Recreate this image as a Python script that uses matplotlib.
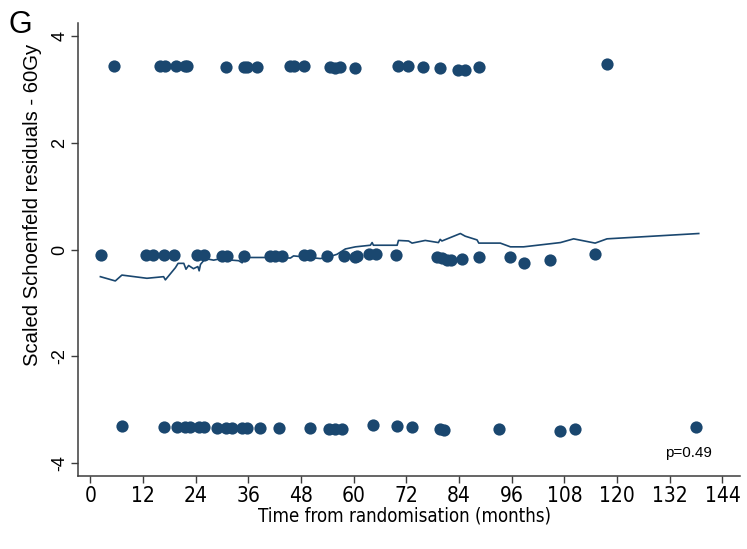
import matplotlib
matplotlib.use("Agg")
import matplotlib.pyplot as plt
from matplotlib import font_manager

# ---- data (months, scaled Schoenfeld residual) ----
top_t = [5.5, 15.9, 17.1, 19.6, 21.6, 22.0, 30.9, 35.1, 35.7, 38.0, 45.6, 46.3, 48.6,
         54.7, 55.8, 56.9, 60.4, 70.0, 72.4, 75.9, 79.7, 83.7, 85.4, 88.5, 117.7]
top_r = [3.45, 3.45, 3.45, 3.45, 3.44, 3.44, 3.43, 3.43, 3.43, 3.43, 3.45, 3.45, 3.45,
         3.43, 3.41, 3.42, 3.41, 3.45, 3.45, 3.42, 3.41, 3.36, 3.36, 3.42, 3.48]

mid_t = [2.4, 12.7, 14.3, 16.7, 19.0, 24.3, 25.8, 30.0, 31.1, 34.9, 41.0, 42.1, 43.7,
         48.6, 50.1, 53.9, 57.7, 60.4, 60.8, 63.6, 65.1, 69.7, 79.0, 80.1, 81.3, 82.2,
         84.7, 88.5, 95.7, 98.7, 104.8, 115.0]
mid_r = [-0.10, -0.11, -0.11, -0.10, -0.10, -0.11, -0.11, -0.12, -0.12, -0.12, -0.12, -0.12, -0.12,
         -0.11, -0.11, -0.13, -0.13, -0.14, -0.12, -0.09, -0.09, -0.10, -0.15, -0.16, -0.20, -0.20,
         -0.17, -0.14, -0.15, -0.25, -0.20, -0.08]

bot_t = [7.2, 16.7, 19.7, 21.6, 22.8, 24.7, 25.8, 28.9, 30.8, 32.3, 34.6, 35.7, 38.7,
         42.9, 50.1, 54.3, 55.8, 57.3, 64.4, 69.9, 73.3, 79.7, 80.5, 93.2, 107.1, 110.3, 138.0]
bot_r = [-3.32, -3.33, -3.33, -3.33, -3.33, -3.33, -3.33, -3.34, -3.34, -3.34, -3.34, -3.34, -3.34,
         -3.34, -3.34, -3.36, -3.36, -3.36, -3.30, -3.32, -3.33, -3.36, -3.39, -3.37, -3.41, -3.36, -3.33]

smooth_t = [2.3, 5.7, 7.2, 12.9, 16.7, 17.1, 18.0, 19.4, 20.0, 21.3, 21.8, 22.4, 23.5, 24.5,
            24.8, 25.1, 26.2, 28.1, 29.2, 33.8, 34.6, 34.9, 39.5, 45.6, 46.3, 52.4, 53.9,
            56.2, 58.1, 60.4, 63.8, 64.2, 64.5, 69.9, 70.2, 72.5, 73.3, 76.3, 79.3, 79.7,
            80.1, 84.3, 85.4, 88.1, 88.5, 93.4, 95.7, 98.7, 107.1, 110.1, 115.0, 117.7, 138.6]
smooth_r = [-0.51, -0.59, -0.48, -0.54, -0.51, -0.57, -0.48, -0.34, -0.26, -0.26, -0.37, -0.30,
            -0.36, -0.32, -0.40, -0.28, -0.17, -0.20, -0.18, -0.21, -0.25, -0.15, -0.15, -0.16,
            -0.12, -0.17, -0.15, -0.09, 0.01, 0.05, 0.08, 0.13, 0.08, 0.08, 0.17, 0.16, 0.12,
            0.17, 0.13, 0.19, 0.16, 0.30, 0.25, 0.18, 0.12, 0.12, 0.05, 0.05, 0.13, 0.20, 0.12,
            0.20, 0.30]

x_ticks = list(range(0, 145, 12))
y_ticks = [-4, -2, 0, 2, 4]
p_text = "p=0.49"
panel = "G"
xlabel = "Time from randomisation (months)"
ylabel = "Scaled Schoenfeld residuals - 60Gy"

navy = "#1a476f"
axis_col = "#3c3c3c"

plt.rcParams["font.family"] = ["Liberation Sans", "DejaVu Sans"]

# look for a narrow/condensed sans face for the x-axis texts
narrow_fp = None
for pref in ("Liberation Sans Narrow", "Arial Narrow"):
    for f in font_manager.fontManager.ttflist:
        if f.name == pref and f.style == "normal" and f.weight in (400, "normal", "regular"):
            narrow_fp = f.fname
            break
    if narrow_fp:
        break
if narrow_fp is None:
    for f in font_manager.fontManager.ttflist:
        if f.name == "DejaVu Sans" and f.stretch == "condensed" and f.style == "normal" \
                and f.weight in (400, "normal", "regular"):
            narrow_fp = f.fname
            break

if narrow_fp:
    xt_font = font_manager.FontProperties(fname=narrow_fp, size=15)
    xl_font = font_manager.FontProperties(fname=narrow_fp, size=13.4)
else:
    xt_font = font_manager.FontProperties(family="Liberation Sans", size=13)
    xl_font = font_manager.FontProperties(family="Liberation Sans", size=14)

fig = plt.figure(figsize=(7.47, 5.49), dpi=100)
ax = fig.add_axes([78 / 747, 1 - 476 / 549, (740 - 78) / 747, (476 - 23) / 549])

for t, r in ((top_t, top_r), (mid_t, mid_r), (bot_t, bot_r)):
    ax.plot(t, r, linestyle="none", marker="o", markersize=8.8, color=navy,
            markeredgewidth=0, zorder=3)
ax.plot(smooth_t, smooth_r, color=navy, linewidth=1.2, zorder=2)

ax.set_xlim(-2.8, 148)
ax.set_ylim(-4.25, 4.25)
ax.set_xticks(x_ticks)
ax.set_yticks(y_ticks)
ax.set_xticklabels([str(v) for v in x_ticks], fontproperties=xt_font)
ax.set_yticklabels([str(v) for v in y_ticks], fontsize=13, rotation=90, va="center")
ax.tick_params(direction="out", length=5, width=1, color=axis_col, pad=2)
for s in ("top", "right"):
    ax.spines[s].set_visible(False)
for s in ("left", "bottom"):
    ax.spines[s].set_color(axis_col)
    ax.spines[s].set_linewidth(1.1)

ax.set_xlabel(xlabel, fontproperties=xl_font)
ax.xaxis.set_label_coords((405 - 78) / 662, (476 - 507) / 453)
ax.set_ylabel(ylabel, fontsize=14.6)
ax.yaxis.set_label_coords((42 - 78) / 662, (476 - 205) / 453)

ax.text((712 - 78) / 662, (476 - 457) / 453, p_text, transform=ax.transAxes,
        ha="right", va="baseline", fontsize=11)
fig.text(8 / 747, 1 - 33 / 549, panel, fontsize=22, ha="left", va="baseline")

fig.savefig("out.png", dpi=100)
